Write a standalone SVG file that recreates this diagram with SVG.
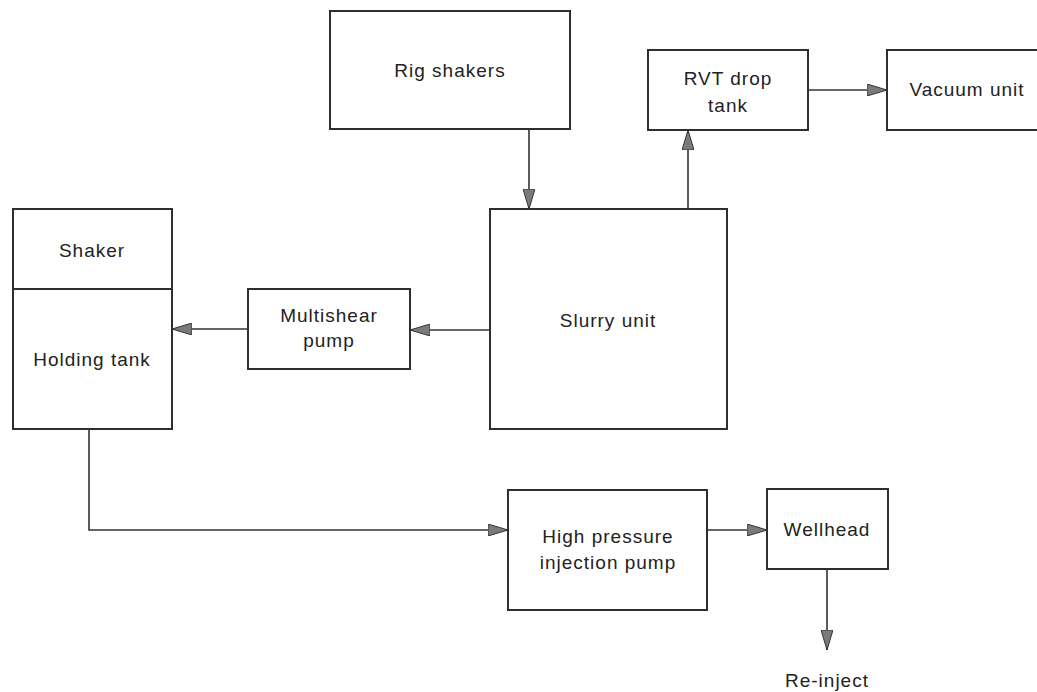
<svg xmlns="http://www.w3.org/2000/svg" width="1037" height="692" viewBox="0 0 1037 692">
<defs>
<style>
.box{fill:#fff;stroke:#2e2e2e;stroke-width:2}
.lbl{font-family:"Liberation Sans",Arial,sans-serif;font-size:19px;letter-spacing:1px;fill:#222;text-anchor:middle}
.conn{fill:none;stroke:#333;stroke-width:1.6;marker-end:url(#arr)}
</style>
<marker id="arr" viewBox="0 0 20 12" refX="20" refY="6" markerWidth="20" markerHeight="12" markerUnits="userSpaceOnUse" orient="auto">
<path d="M0,0 L20,6 L0,12 Z" fill="#7a7a7a" stroke="#333" stroke-width="1"/>
</marker>
</defs>
<rect width="1037" height="692" fill="#fff"/>
<g id="rig-shakers">
<rect class="box" x="330" y="11" width="240" height="118"/>
<text class="lbl" x="450" y="77">Rig shakers</text>
</g>
<g id="rvt-drop-tank">
<rect class="box" x="648" y="50" width="160" height="80"/>
<text class="lbl" x="728" y="85">RVT drop</text>
<text class="lbl" x="728" y="112">tank</text>
</g>
<g id="vacuum-unit">
<rect class="box" x="887" y="50" width="180" height="80"/>
<text class="lbl" x="967" y="96">Vacuum unit</text>
</g>
<g id="slurry-unit">
<rect class="box" x="490" y="209" width="237" height="220"/>
<text class="lbl" x="608" y="327">Slurry unit</text>
</g>
<g id="shaker-holding-tank">
<rect class="box" x="13" y="209" width="159" height="220"/>
<line x1="13" y1="289" x2="172" y2="289" stroke="#2e2e2e" stroke-width="2"/>
<text class="lbl" x="92" y="257">Shaker</text>
<text class="lbl" x="92" y="366">Holding tank</text>
</g>
<g id="multishear-pump">
<rect class="box" x="248" y="289" width="162" height="80"/>
<text class="lbl" x="329" y="322">Multishear</text>
<text class="lbl" x="329" y="347">pump</text>
</g>
<g id="hp-injection-pump">
<rect class="box" x="508" y="490" width="199" height="120"/>
<text class="lbl" x="608" y="543">High pressure</text>
<text class="lbl" x="608" y="569">injection pump</text>
</g>
<g id="wellhead">
<rect class="box" x="767" y="489" width="121" height="80"/>
<text class="lbl" x="827" y="536">Wellhead</text>
</g>
<g id="re-inject">
<text class="lbl" x="827" y="687">Re-inject</text>
</g>
<g id="connectors">
<path class="conn" d="M529,129 V209"/>
<path class="conn" d="M688,209 V130"/>
<path class="conn" d="M808,90 H887"/>
<path class="conn" d="M490,330 H410"/>
<path class="conn" d="M248,329 H172"/>
<path class="conn" d="M89,429 V530 H508"/>
<path class="conn" d="M707,530 H767"/>
<path class="conn" d="M827,569 V650"/>
</g>
</svg>
